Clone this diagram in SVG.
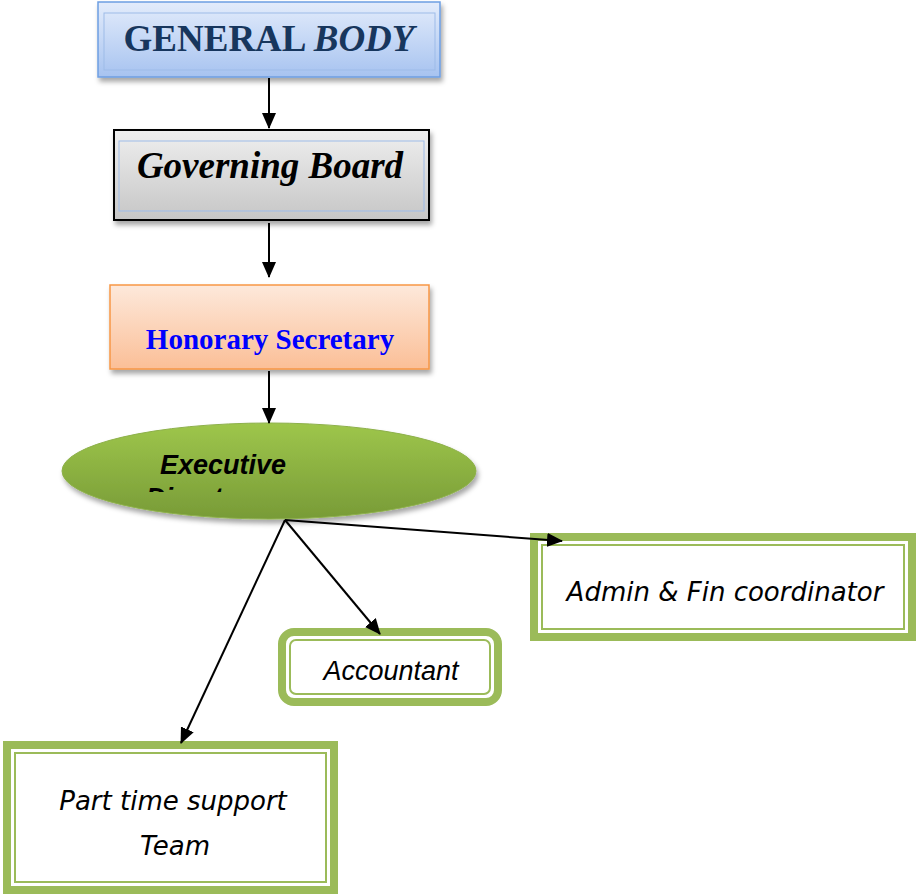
<svg xmlns="http://www.w3.org/2000/svg" width="918" height="894" viewBox="0 0 918 894">
<style>
.conn{stroke:#000;stroke-width:2;fill:none}
.gbox{fill:#fff;stroke:#9bbb59;stroke-width:8}
.gin{fill:none;stroke:#9bbb59;stroke-width:2}
.comic{font-family:"DejaVu Sans","Noto Sans",sans-serif;font-style:italic;font-size:26px;fill:#000;text-anchor:middle}
</style>
<defs>
<linearGradient id="gBlue" x1="0" y1="0" x2="0" y2="1"><stop offset="0" stop-color="#e3ecfb"/><stop offset="1" stop-color="#a7c3f0"/></linearGradient>
<linearGradient id="gGray" x1="0" y1="0" x2="0" y2="1"><stop offset="0" stop-color="#efefef"/><stop offset="1" stop-color="#c6c6c6"/></linearGradient>
<linearGradient id="gOrange" x1="0" y1="0" x2="0" y2="1"><stop offset="0" stop-color="#fde9db"/><stop offset="1" stop-color="#fbbf97"/></linearGradient>
<linearGradient id="gGreen" x1="0" y1="0" x2="0" y2="1"><stop offset="0" stop-color="#9ec64b"/><stop offset="1" stop-color="#789b37"/></linearGradient>
<filter id="sh" x="-10%" y="-10%" width="125%" height="140%"><feDropShadow dx="2" dy="4" stdDeviation="2.5" flood-color="#000" flood-opacity="0.35"/></filter>
<marker id="ah" viewBox="0 0 16 14" refX="15" refY="7" markerWidth="16" markerHeight="14" markerUnits="userSpaceOnUse" orient="auto"><path d="M0,0 L16,7 L0,14 Z" fill="#000"/></marker>
<clipPath id="ellClip"><rect x="50" y="400" width="440" height="92"/></clipPath>
</defs>
<g id="general-body">
<rect x="98" y="2" width="342" height="75" fill="url(#gBlue)" stroke="#6e9ee2" stroke-width="1.5" filter="url(#sh)"/>
<rect x="104" y="13" width="331" height="57" fill="none" stroke="#9dbbe8" stroke-width="1"/>
<text x="269" y="51" text-anchor="middle" font-family="Liberation Serif,serif" font-weight="bold" font-size="37" fill="#17365d">GENERAL <tspan font-style="italic">BODY</tspan></text>
</g>
<g id="governing-board">
<rect x="114" y="130" width="315" height="90" fill="url(#gGray)" stroke="#000" stroke-width="2" filter="url(#sh)"/>
<rect x="119" y="141" width="305" height="70" fill="none" stroke="#9dbbe8" stroke-width="1"/>
<text x="270" y="178" text-anchor="middle" font-family="Liberation Serif,serif" font-weight="bold" font-style="italic" font-size="37" fill="#000">Governing Board</text>
</g>
<g id="honorary-secretary">
<rect x="110" y="285" width="319" height="84" fill="url(#gOrange)" stroke="#f79646" stroke-width="1.5" filter="url(#sh)"/>
<text x="270" y="349" text-anchor="middle" font-family="Liberation Serif,serif" font-weight="bold" font-size="29" fill="#0000ff">Honorary Secretary</text>
</g>
<g id="executive-director">
<ellipse cx="269" cy="471" rx="207" ry="48" fill="url(#gGreen)" stroke="#8db04a" stroke-width="1" filter="url(#sh)"/>
<g clip-path="url(#ellClip)" font-family="Liberation Sans,Arial,sans-serif" font-weight="bold" font-style="italic" font-size="27" fill="#000">
<text x="160" y="474">Executive</text>
<text x="146" y="507">Director</text>
</g>
</g>
<g id="admin-fin">
<rect class="gbox" x="534" y="537" width="378" height="100"/>
<rect class="gin" x="542" y="545" width="362" height="84"/>
<text class="comic" x="725" y="601">Admin &amp; Fin coordinator</text>
</g>
<g id="accountant">
<rect class="gbox" x="282" y="632" width="216" height="70" rx="12"/>
<rect class="gin" x="290" y="640" width="200" height="54" rx="6"/>
<text x="391" y="680" text-anchor="middle" font-family="Liberation Sans,Arial,sans-serif" font-style="italic" font-size="27" fill="#000">Accountant</text>
</g>
<g id="part-time">
<rect class="gbox" x="7" y="745" width="327" height="145"/>
<rect class="gin" x="15" y="753" width="311" height="129"/>
<text class="comic" x="173" y="810">Part time support</text>
<text class="comic" x="175" y="855">Team</text>
</g>
<g id="connectors">
<line class="conn" x1="269" y1="78" x2="269" y2="128" marker-end="url(#ah)"/>
<line class="conn" x1="269" y1="223" x2="269" y2="277" marker-end="url(#ah)"/>
<line class="conn" x1="269" y1="371" x2="269" y2="423" marker-end="url(#ah)"/>
<line class="conn" x1="285" y1="520" x2="562" y2="541" marker-end="url(#ah)"/>
<line class="conn" x1="285" y1="520" x2="380" y2="634" marker-end="url(#ah)"/>
<line class="conn" x1="285" y1="520" x2="181" y2="743" marker-end="url(#ah)"/>
</g>
</svg>
